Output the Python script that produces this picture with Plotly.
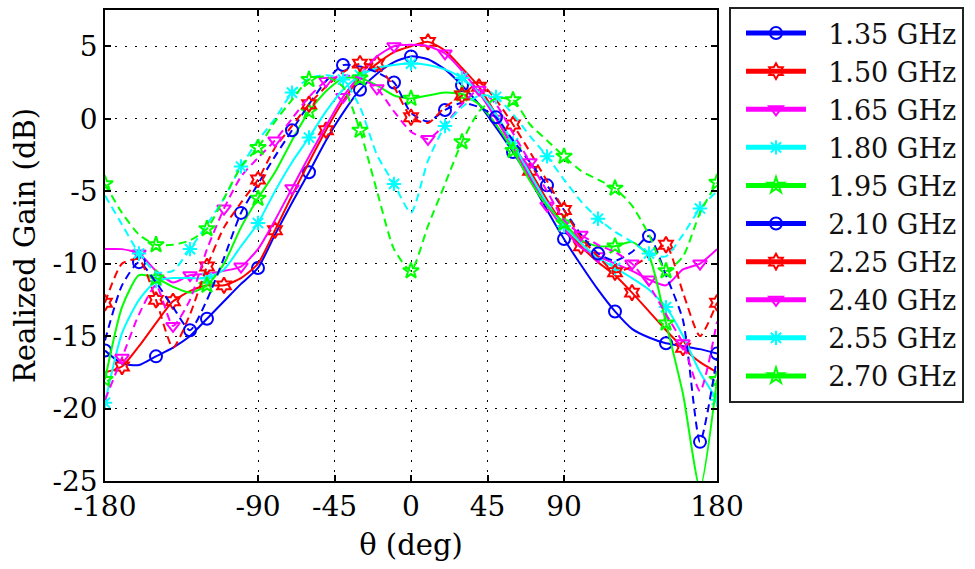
import plotly.graph_objects as go

# ---------------- data ----------------
theta = list(range(-180, 181, 10))  # deg

freq_labels = ["1.35 GHz", "1.50 GHz", "1.65 GHz", "1.80 GHz", "1.95 GHz",
               "2.10 GHz", "2.25 GHz", "2.40 GHz", "2.55 GHz", "2.70 GHz"]

g135 = [-16.0, -16.9, -17.0, -16.4, -15.8, -15.0, -13.8, -12.6, -11.4,
        -10.3, -8.0, -5.8, -3.7, -1.5, 0.4, 2.0, 3.1, 3.9,
        4.3,
        4.1, 3.4, 2.3, 1.0, -0.6, -2.3, -4.2, -6.3, -8.3,
        -10.1, -11.8, -13.3, -14.5, -15.1, -15.5, -15.7, -15.9, -16.2]
g150 = [-17.5, -17.1, -15.7, -14.1, -12.6, -11.9, -11.5, -11.5, -11.0,
        -10.0, -7.7, -5.3, -3.0, -0.8, 1.2, 2.8, 3.8, 4.6,
        5.0,
        5.3, 4.7, 3.5, 2.2, 0.3, -1.8, -3.6, -5.6, -7.4,
        -8.8, -9.9, -10.8, -12.0, -13.3, -14.6, -15.8, -16.8, -17.5]
g165 = [-9.0, -9.0, -9.3, -10.5, -11.3, -10.8, -10.7, -10.5, -10.2,
        -9.0, -7.0, -4.8, -2.6, -0.5, 1.5, 3.0, 4.3, 5.0,
        5.1,
        5.0, 4.5, 3.3, 1.8, 0.0, -2.0, -4.0, -6.0, -7.6,
        -8.9, -9.5, -10.0, -10.5, -11.1, -11.5, -10.4, -10.0, -9.0]
g180 = [-19.6, -14.8, -12.5, -11.2, -11.0, -11.0, -11.0, -10.4, -8.8,
        -7.2, -5.0, -3.0, -1.3, 0.5, 2.0, 3.0, 3.5, 3.7,
        3.8,
        3.7, 3.4, 2.8, 1.8, 0.3, -1.7, -3.8, -5.8, -7.4,
        -8.6, -9.6, -10.3, -11.0, -11.8, -13.0, -15.0, -17.5, -19.4]
g195 = [-18.0, -13.0, -10.8, -11.0, -11.6, -12.0, -11.5, -10.0, -7.5,
        -5.5, -3.7, -1.5, 0.5, 1.9, 2.8, 2.8, 2.3, 1.6,
        1.4,
        1.6, 1.8, 1.7, 1.0, -0.4, -2.2, -4.3, -6.0, -7.2,
        -8.4, -8.8, -8.8, -8.5, -9.5, -14.1, -19.0, -25.5, -18.0]
g210 = [-15.3, -11.5, -9.9, -11.3, -13.0, -14.6, -12.5, -9.6, -6.5,
        -4.5, -2.6, -0.8, 1.0, 2.6, 3.7, 3.6, 3.2, 2.5,
        0.4,
        -0.2, 0.6, 1.1, 0.8, 0.1, -1.5, -3.0, -4.6, -6.3,
        -8.0, -9.3, -9.8, -9.2, -8.1, -10.8, -13.9, -22.3, -16.5]
g225 = [-12.7, -10.0, -9.7, -12.5, -15.8, -13.5, -10.2, -7.5, -5.8,
        -4.2, -2.0, -0.5, 1.0, 2.2, 3.2, 3.8, 3.6, 2.2,
        0.1,
        -0.3, 0.8, 1.6, 2.5, 1.3, -0.4, -2.3, -4.3, -6.3,
        -8.2, -9.5, -10.6, -10.2, -9.5, -8.7, -12.0, -15.0, -12.7]
g240 = [-19.4, -16.5, -13.5, -11.5, -14.3, -12.5, -9.0, -6.2, -4.0,
        -2.7, -1.5, 0.0, 1.5, 2.6, 3.0, 2.8, 2.1, 0.5,
        -0.9,
        -1.4, -0.4, 1.0, 2.0, 1.0, -1.0, -3.0, -5.0, -7.0,
        -8.0, -8.7, -9.2, -10.0, -11.5, -13.5, -15.5, -18.8, -14.0]
g255 = [-5.3, -7.3, -9.3, -10.6, -10.5, -9.0, -7.3, -5.5, -3.3,
        -1.5, 0.0, 1.8, 2.8, 3.0, 2.7, 0.8, -2.5, -4.5,
        -6.5,
        -2.9, -0.5, 0.8, 1.6, 1.5, 0.3, -1.2, -2.6, -4.2,
        -5.7, -6.9, -7.8, -8.5, -9.3, -9.5, -8.0, -6.2, -5.0]
g270 = [-4.5, -6.5, -8.0, -8.7, -8.7, -8.4, -7.6, -5.5, -3.3,
        -2.0, -0.2, 1.3, 2.7, 2.9, 2.2, -0.8, -5.0, -9.0,
        -10.5,
        -7.4, -4.5, -1.6, 0.5, 1.4, 1.3, -0.4, -1.5, -2.6,
        -3.6, -4.2, -4.8, -6.0, -8.0, -10.5, -9.5, -6.5, -4.4]

series = [g135, g150, g165, g180, g195, g210, g225, g240, g255, g270]
for s in series:
    assert len(s) == len(theta), len(s)

x_tickvals = [-180, -90, -45, 0, 45, 90, 180]
y_tickvals = [-25, -20, -15, -10, -5, 0, 5]

# ---------------- styles ----------------
colors = ["#0000ff", "#ff0000", "#ff00ff", "#00ffff", "#00ff00"] * 2
symbols = ["circle-open", "hexagram-open", "triangle-down-open",
           "asterisk-open", "star-open"] * 2
dashes = ["solid"] * 5 + ["8px,5px"] * 5
marker_offsets = [0, 1, 2, 0, 0, 2, 0, 1, 2, 0]
NBSP = "\u00a0"

fig = go.Figure()
for i, vals in enumerate(series):
    fig.add_trace(go.Scatter(
        x=theta, y=vals, mode="lines",
        line=dict(color=colors[i], width=2, dash=dashes[i],
                  shape="spline", smoothing=0.6),
        showlegend=False, legendgroup=freq_labels[i], hoverinfo="skip"))
    idx = list(range(marker_offsets[i], len(theta), 3))
    fig.add_trace(go.Scatter(
        x=[theta[k] for k in idx], y=[vals[k] for k in idx], mode="markers",
        marker=dict(symbol=symbols[i], size=12, color=colors[i],
                    line=dict(width=2, color=colors[i])),
        showlegend=False, legendgroup=freq_labels[i]))

for i, name in enumerate(freq_labels):
    fig.add_trace(go.Scatter(
        x=[None], y=[None], mode="lines+markers", name=NBSP * 2 + name,
        legendgroup=name,
        line=dict(color=colors[i], width=2),
        marker=dict(symbol=symbols[i], size=12, color=colors[i],
                    line=dict(width=2, color=colors[i]))))

axis_common = dict(
    ticks="inside", ticklen=6, tickwidth=1.5, tickcolor="black",
    showline=True, linecolor="black", linewidth=1.5, mirror="ticks",
    showgrid=True, gridcolor="black", gridwidth=1, griddash="2px,8px",
    zeroline=False, tickfont=dict(size=28, color="black"),
)

fig.update_xaxes(range=[-180, 180], tickmode="array", tickvals=x_tickvals,
                 ticktext=[str(v) for v in x_tickvals],
                 title=dict(text="θ (deg)", font=dict(size=29), standoff=12),
                 **axis_common)
fig.update_yaxes(range=[-25, 7.5], tickmode="array", tickvals=y_tickvals,
                 ticktext=[str(v) for v in y_tickvals],
                 title=dict(text="Realized Gain (dB)", font=dict(size=29), standoff=8),
                 **axis_common)

fig.update_layout(
    width=975, height=569,
    margin=dict(l=105, r=258, t=10, b=88, autoexpand=False),
    paper_bgcolor="white", plot_bgcolor="white",
    font=dict(family="DejaVu Serif", size=29, color="black"),
    legend=dict(x=729 / 975, y=1 - 7 / 569, xref="container", yref="container",
                xanchor="left", yanchor="top", bordercolor="#222222",
                borderwidth=2, bgcolor="white",
                font=dict(size=27, color="#111111"),
                itemwidth=60, itemsizing="constant", tracegroupgap=0,
                indentation=10, maxheight=500),
)

fig.write_html("out.html")
